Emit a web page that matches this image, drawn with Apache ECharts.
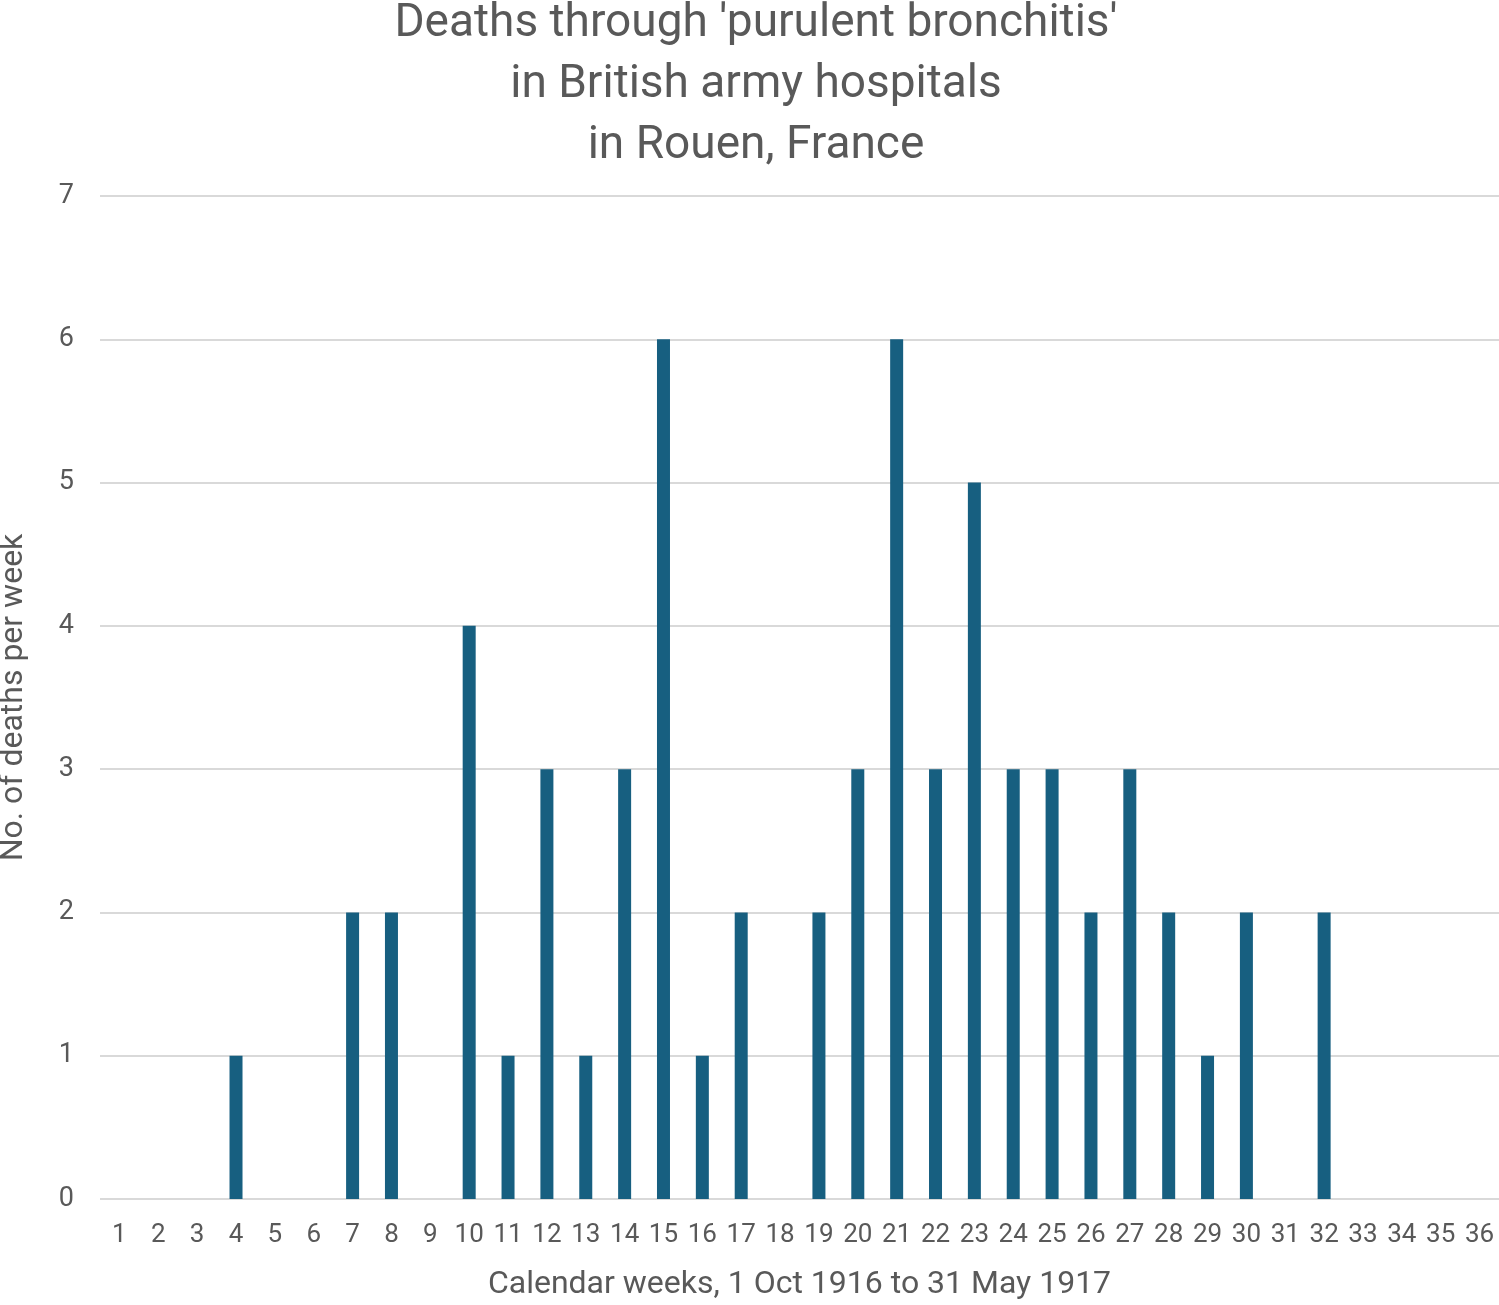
<!DOCTYPE html>
<html>
<head>
<meta charset="utf-8">
<script src="https://cdn.jsdelivr.net/npm/echarts@6/dist/echarts.min.js"></script>
<style>html,body{margin:0;padding:0;background:#fff}#c{width:1499px;height:1305px}</style>
</head>
<body>
<div id="c"></div>
<script>
const weeks = Array.from({length: 36}, (_, i) => String(i + 1));
const deaths = [0,0,0,1,0,0,2,2,0,4,1,3,1,3,6,1,2,0,2,3,6,3,5,3,3,2,3,2,1,2,0,2,0,0,0,0];
const yTicks = {min: 0, max: 7, interval: 1};
const titleText = "Deaths through 'purulent bronchitis'\nin British army hospitals\nin Rouen, France";
const xName = "Calendar weeks, 1 Oct 1916 to 31 May 1917";
const yName = "No. of deaths per week";

const chart = echarts.init(document.getElementById('c'), null, {renderer: 'canvas'});
const txt = '#595959';
chart.setOption({
  animation: false,
  backgroundColor: '#ffffff',
  title: {
    text: titleText,
    left: 751,
    textAlign: 'center',
    top: -11,
    textStyle: {fontFamily: 'Roboto, sans-serif', fontSize: 46, fontWeight: 'normal', color: txt, lineHeight: 61}
  },
  grid: {left: 100, right: 0, top: 196, bottom: 106, containLabel: false, outerBoundsMode: 'none'},
  xAxis: {
    type: 'category',
    data: weeks,
    name: xName,
    nameLocation: 'middle',
    nameGap: 70,
    nameTextStyle: {fontFamily: 'Roboto, sans-serif', fontSize: 32, color: txt},
    axisLine: {show: false},
    axisTick: {show: false},
    axisLabel: {interval: 0, fontFamily: 'Roboto, sans-serif', fontSize: 26, color: txt, margin: 23}
  },
  yAxis: {
    type: 'value',
    min: yTicks.min, max: yTicks.max, interval: yTicks.interval,
    name: yName,
    nameLocation: 'middle',
    nameGap: 70,
    nameTextStyle: {fontFamily: 'Roboto, sans-serif', fontSize: 32, color: txt},
    axisLine: {show: false},
    axisTick: {show: false},
    axisLabel: {fontFamily: 'Roboto, sans-serif', fontSize: 27, color: txt, margin: 26},
    splitLine: {lineStyle: {color: '#d9d9d9', width: 2}}
  },
  series: [{
    type: 'bar',
    data: deaths,
    barWidth: 13,
    itemStyle: {color: '#175f80'}
  }]
});
</script>
</body>
</html>
